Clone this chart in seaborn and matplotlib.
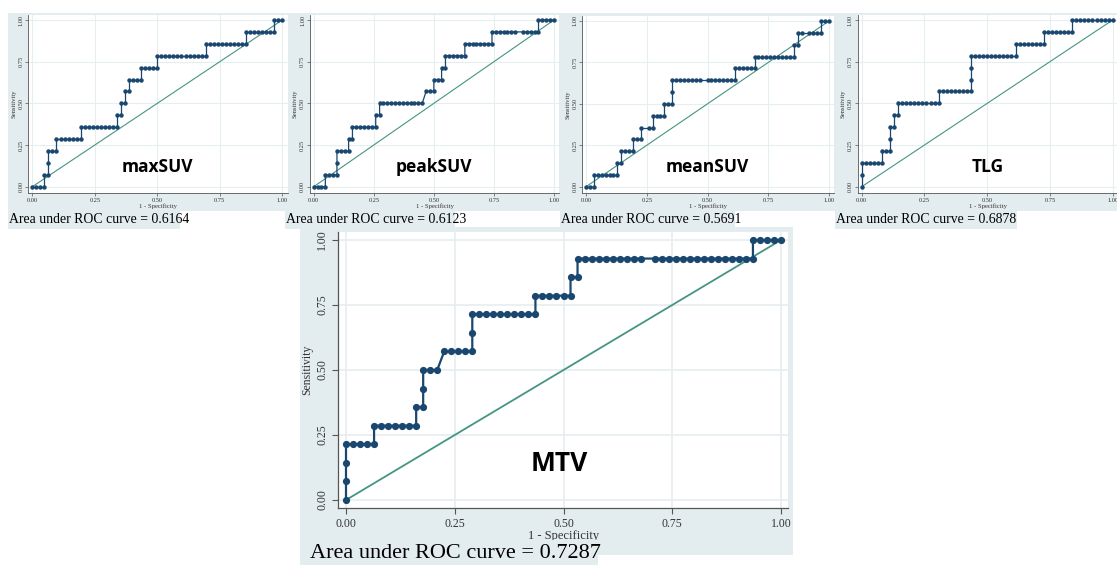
import matplotlib
matplotlib.use("Agg")
import matplotlib.pyplot as plt
from matplotlib.patches import Rectangle
import seaborn as sns

# counts of false positives (of 62 negatives) and true positives (of 14 positives)
N_NEG = 62
N_POS = 14

names = ["maxSUV", "peakSUV", "meanSUV", "TLG", "MTV"]
auc = ["0.6164", "0.6123", "0.5691", "0.6878", "0.7287"]
ticks = [0, 0.25, 0.5, 0.75, 1]
tick_labels = ["0.00", "0.25", "0.50", "0.75", "1.00"]
ref_line = [0, 1]

maxsuv_fp = [0, 1, 2, 3, 3, 4, 4, 4, 5, 6, 6, 7, 8, 9, 10, 11, 12,
             12, 13, 14, 15, 16, 17, 18, 19, 20, 21, 21, 22, 22, 23, 23, 24,
             24, 25, 26, 27, 27, 28, 29, 30, 31,
             31, 32, 33, 34, 35, 36, 37, 38, 39, 40, 41, 42, 43,
             43, 44, 45, 46, 47, 48, 49, 50, 51, 52, 53,
             53, 54, 55, 56, 57, 58, 59, 60, 60, 61, 62]
maxsuv_tp = [0, 0, 0, 0, 1, 1, 2, 3, 3, 3, 4, 4, 4, 4, 4, 4, 4,
             5, 5, 5, 5, 5, 5, 5, 5, 5, 5, 6, 6, 7, 7, 8, 8,
             9, 9, 9, 9, 10, 10, 10, 10, 10,
             11, 11, 11, 11, 11, 11, 11, 11, 11, 11, 11, 11, 11,
             12, 12, 12, 12, 12, 12, 12, 12, 12, 12, 12,
             13, 13, 13, 13, 13, 13, 13, 13, 14, 14, 14]

peaksuv_fp = [0, 1, 2, 3, 3, 4, 5, 6, 6, 6, 7, 8, 9, 9, 10,
              10, 11, 12, 13, 14, 15, 16, 16, 17,
              17, 18, 19, 20, 21, 22, 23, 24, 25, 26, 27, 28,
              29, 30, 31, 31, 32, 33, 33, 34,
              34, 35, 36, 37, 38, 39, 39, 40, 41, 42, 43, 44, 45, 46,
              46, 47, 48, 49, 50, 51, 52, 54, 55, 56, 57, 58,
              58, 59, 60, 61, 62]
peaksuv_tp = [0, 0, 0, 0, 1, 1, 1, 1, 2, 3, 3, 3, 3, 4, 4,
              5, 5, 5, 5, 5, 5, 5, 6, 6,
              7, 7, 7, 7, 7, 7, 7, 7, 7, 7, 7, 7,
              8, 8, 8, 9, 9, 9, 10, 10,
              11, 11, 11, 11, 11, 11, 12, 12, 12, 12, 12, 12, 12, 12,
              13, 13, 13, 13, 13, 13, 13, 13, 13, 13, 13, 13,
              14, 14, 14, 14, 14]

meansuv_fp = [0, 1, 2, 2, 3, 4, 5, 6, 7, 8, 8, 9, 9, 10, 11, 12,
              12, 13, 14, 14, 16, 17, 17, 18, 19, 20, 20, 21, 22, 22,
              22, 23, 24, 25, 26, 27, 28, 29, 31, 32, 33, 34, 35, 36, 37, 38,
              38, 39, 40, 41, 42, 43,
              43, 44, 45, 46, 47, 48, 49, 50, 51, 52, 53,
              53, 54, 54, 55, 57, 58, 59, 60, 60, 61, 62]
meansuv_tp = [0, 0, 0, 1, 1, 1, 1, 1, 1, 1, 2, 2, 3, 3, 3, 3,
              4, 4, 4, 5, 5, 5, 6, 6, 6, 6, 7, 7, 7, 8,
              9, 9, 9, 9, 9, 9, 9, 9, 9, 9, 9, 9, 9, 9, 9, 9,
              10, 10, 10, 10, 10, 10,
              11, 11, 11, 11, 11, 11, 11, 11, 11, 11, 11,
              12, 12, 13, 13, 13, 13, 13, 13, 14, 14, 14]

tlg_fp = [0, 0, 0, 1, 2, 3, 4, 5, 5, 6, 7, 7, 7, 8, 8, 9,
          9, 10, 11, 12, 13, 14, 15, 16, 17, 18, 19,
          19, 20, 21, 22, 23, 24, 25, 26, 27, 27, 27,
          27, 28, 29, 30, 31, 32, 33, 34, 35, 36, 37, 38,
          38, 39, 40, 41, 42, 43, 44, 45,
          45, 46, 47, 48, 49, 50, 51, 52,
          52, 53, 54, 55, 56, 57, 58, 59, 60, 61, 62]
tlg_tp = [0, 1, 2, 2, 2, 2, 2, 2, 3, 3, 3, 4, 5, 5, 6, 6,
          7, 7, 7, 7, 7, 7, 7, 7, 7, 7, 7,
          8, 8, 8, 8, 8, 8, 8, 8, 8, 9, 10,
          11, 11, 11, 11, 11, 11, 11, 11, 11, 11, 11, 11,
          12, 12, 12, 12, 12, 12, 12, 12,
          13, 13, 13, 13, 13, 13, 13, 13,
          14, 14, 14, 14, 14, 14, 14, 14, 14, 14, 14]

mtv_fp = [0, 0, 0, 0, 1, 2, 3, 4, 4, 5, 6, 7, 8, 9, 10, 10, 11, 11,
          11, 12, 13, 14, 15, 16, 17, 18, 18,
          18, 19, 20, 21, 22, 23, 24, 25, 26, 27,
          27, 28, 29, 30, 31, 32, 32, 33,
          33, 34, 35, 36, 37, 38, 39, 40, 41, 42, 44, 45, 46, 47, 48, 49, 50,
          51, 52, 53, 54, 55, 56, 57, 58,
          58, 59, 60, 61, 62]
mtv_tp = [0, 1, 2, 3, 3, 3, 3, 3, 4, 4, 4, 4, 4, 4, 4, 5, 5, 6,
          7, 7, 7, 8, 8, 8, 8, 8, 9,
          10, 10, 10, 10, 10, 10, 10, 10, 10, 10,
          11, 11, 11, 11, 11, 11, 12, 12,
          13, 13, 13, 13, 13, 13, 13, 13, 13, 13, 13, 13, 13, 13, 13, 13, 13,
          13, 13, 13, 13, 13, 13, 13, 13,
          14, 14, 14, 14, 14]

curves = [(maxsuv_fp, maxsuv_tp), (peaksuv_fp, peaksuv_tp), (meansuv_fp, meansuv_tp),
          (tlg_fp, tlg_tp), (mtv_fp, mtv_tp)]

NAVY = "#1a476f"
TEAL = "#449583"
BG = "#e3ecee"
GRID = "#e6eef0"

sns.set_theme(style="white")
plt.rcParams["font.family"] = ["Liberation Serif", "DejaVu Serif"]

W, H = 1117, 565
fig = plt.figure(figsize=(W / 100, H / 100), dpi=100)
fig.patch.set_facecolor("white")


def frect(left, top, width, height):
    return [left / W, 1 - (top + height) / H, width / W, height / H]


def bg_box(left, top, width, height, z):
    fig.add_artist(Rectangle((left / W, 1 - (top + height) / H), width / W, height / H,
                             transform=fig.transFigure, facecolor=BG, edgecolor="none",
                             zorder=z))


# panel backgrounds
bg_box(8, 13, 1109, 198, -5)
bg_box(300, 227, 493, 328, -5)

# (x at 0, x at 1, y at 0, y at 1) pixel anchors of each plot region
anchors = [(32.3, 282.3, 186.7, 20), (313.7, 554, 186.7, 20), (586, 829, 186.7, 21),
           (861.7, 1112.7, 186.7, 20), (346, 781, 500, 240)]

for i, (fp, tp) in enumerate(curves):
    big = i == 4
    x0, x1, y0, y1 = anchors[i]
    xlim = (-0.018, 1.016) if big else (-0.016, 1.022)
    ylim = (-0.03, 1.03) if big else (-0.036, 1.03)
    sx, sy = x1 - x0, y0 - y1
    left = x0 + xlim[0] * sx
    right = x0 + xlim[1] * sx
    top = y1 - (ylim[1] - 1) * sy
    bottom = y0 - ylim[0] * sy
    ax = fig.add_axes(frect(left, top, right - left, bottom - top))
    ax.set_facecolor("white")

    fpr = [v / N_NEG for v in fp]
    tpr = [v / N_POS for v in tp]
    sns.lineplot(x=ref_line, y=ref_line, color=TEAL, linewidth=1.3 if big else 0.8,
                 ax=ax, zorder=2)
    sns.lineplot(x=fpr, y=tpr, sort=False, estimator=None, color=NAVY,
                 linewidth=1.6 if big else 0.9, marker="o",
                 markersize=5.2 if big else 3.2, markeredgewidth=0, ax=ax, zorder=3)

    ax.set_xlim(xlim)
    ax.set_ylim(ylim)
    ax.set_xticks(ticks)
    ax.set_yticks(ticks)
    fs = 8.5 if big else 4.6
    ax.set_xticklabels(tick_labels, fontsize=fs)
    ax.set_yticklabels(tick_labels, fontsize=fs, rotation=90, va="center")
    ax.grid(True, color=GRID, linewidth=1.2 if big else 0.8)
    ax.set_axisbelow(True)
    for s in ["top", "right"]:
        ax.spines[s].set_visible(False)
    for s in ["left", "bottom"]:
        ax.spines[s].set_color("#555555")
        ax.spines[s].set_linewidth(0.9 if big else 0.6)
    ax.tick_params(axis="both", which="both", direction="out", length=4 if big else 2,
                   width=0.8 if big else 0.5, color="#555555", labelcolor="#333333",
                   pad=3 if big else 1.5, left=True, bottom=True)
    ax.set_xlabel("1 - Specificity", fontsize=9 if big else 4.8, color="#333333",
                  labelpad=0 if big else 0.5)
    ax.set_ylabel("Sensitivity", fontsize=8.5 if big else 4.8, color="#333333",
                  labelpad=2 if big else 1.5)
    ax.text(0.49 if big else 0.5, 0.14 if big else 0.12, names[i],
            fontsize=19 if big else 12.5, fontweight="bold", family="Open Sans",
            color="black", ha="center", va="center", zorder=4)

# "Area under ROC curve" notes with their shaded bands
notes = [(8, 211, 172, 18), (285, 211, 170, 18), (560, 211, 175, 18), (835, 211, 182, 18),
         (300, 540, 298, 26)]
for i, (l, t, w, h) in enumerate(notes):
    big = i == 4
    bg_box(l, t, w, h, 5)
    fig.text((l + (10 if big else 1)) / W, 1 - (t + h / 2 + (1 if big else 0)) / H,
             "Area under ROC curve = " + auc[i], fontsize=16 if big else 9.9,
             color="black", ha="left", va="center", zorder=6)

fig.savefig("out.png", dpi=100)
